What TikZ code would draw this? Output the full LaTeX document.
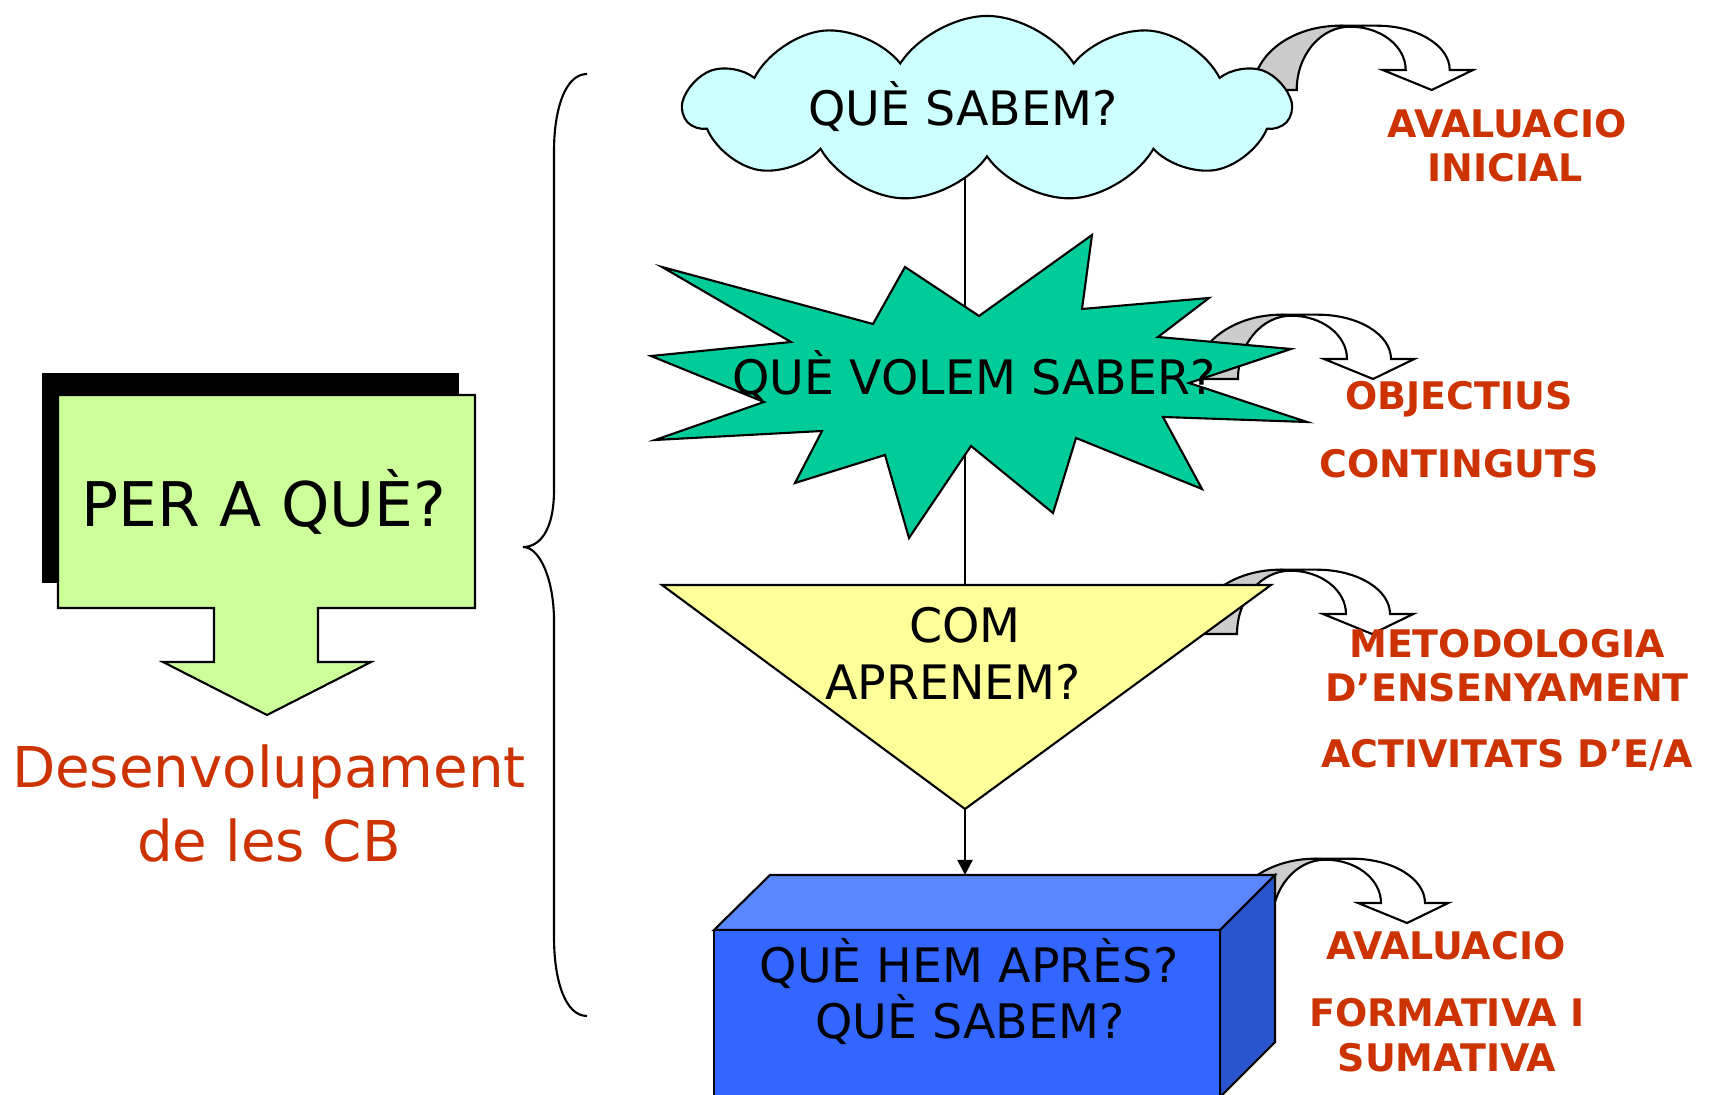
\documentclass[tikz,border=0pt]{standalone}
\usepackage{fontspec}
\setmainfont{DejaVu Sans}
\usetikzlibrary{shapes.symbols,arrows.meta}
\definecolor{labc}{HTML}{CC3300}
\definecolor{cloudc}{HTML}{CCFFFF}
\definecolor{starc}{HTML}{00CC99}
\definecolor{tric}{HTML}{FFFF99}
\definecolor{greenc}{HTML}{CCFF99}
\definecolor{boxfront}{HTML}{3366FF}
\definecolor{boxtopc}{HTML}{5B87FF}
\definecolor{boxside}{HTML}{2B55CC}
\definecolor{bandgray}{HTML}{CCCCCC}
\pgfdeclarelayer{bglayer}
\pgfsetlayers{bglayer,main}
\tikzset{
  outl/.style={draw=black, line width=0.6pt, line join=miter},
  blacktext/.style={font=\fontsize{13.5}{16}\selectfont, anchor=base, inner sep=0pt},
  labeltext/.style={font=\bfseries\fontsize{10.8}{13}\selectfont, text=labc, anchor=base, inner sep=0pt},
  orangebig/.style={font=\fontsize{16}{20}\selectfont, text=labc, anchor=base, inner sep=0pt},
}
\newcommand\bentarrow[2]{%
  \begin{scope}[shift={#2}]
    \filldraw[outl, fill=bandgray] (-178.4,0) arc[start angle=180,end angle=90,x radius=86.7,y radius=64.3]
      -- (-81.7,63.3) arc[start angle=90,end angle=180,x radius=53.3,y radius=63.3] -- cycle;
    \filldraw[outl, fill=white] (-91.7,64.3) -- (-55,64.3) arc[start angle=90,end angle=0,x radius=73,y radius=44.3]
      -- (41.3,20) -- (0,0) coordinate (#1) -- (-49,20) -- (-26,20)
      arc[start angle=0,end angle=90,x radius=55.7,y radius=43.3] -- cycle;
  \end{scope}}
\begin{document}
\begin{tikzpicture}[x=0.01cm,y=0.01cm]
\useasboundingbox (0,0) rectangle (1715,-1095);
\clip (0,0) rectangle (1715,-1095);

% left callout
\fill[black] (42,-373) rectangle (459,-583);
\filldraw[outl, fill=greenc] (58,-395) -- (475,-395) -- (475,-608) -- (318,-608) -- (318,-662)
  -- (371,-662) -- (267,-715) -- (163,-662) -- (214,-662) -- (214,-608) -- (58,-608) -- cycle;
\node[blacktext, font=\fontsize{17.5}{20}\selectfont] (perque) at (264,-527) {PER A QUÈ?};
\node[orangebig] (des1) at (269,-788) {Desenvolupament};
\node[orangebig] (des2) at (269,-862) {de les CB};

% brace
\draw[line width=0.6pt] (587,-74) .. controls (565,-74) and (554,-110) .. (554,-151) -- (554,-490)
  .. controls (554,-530) and (540,-547) .. (523,-547)
  .. controls (540,-547) and (554,-580) .. (554,-621) -- (554,-937)
  .. controls (554,-980) and (565,-1016) .. (587,-1016);

% bent arrows (behind shapes)
\bentarrow{a1}{(1431.7,-90)}
\bentarrow{a2}{(1373,-379)}
\bentarrow{a3}{(1372,-634)}
\bentarrow{a4}{(1407,-923)}

% key coordinates
\coordinate (tritop) at (965,-585);
\coordinate (tritip) at (965,-809);
\coordinate (boxtop) at (965,-875);

% cloud
\node[cloud, cloud puffs=11, cloud puff arc=115, aspect=3.3, outl, fill=cloudc,
      minimum width=6.05cm, minimum height=1.86cm, inner sep=0pt] (cloud) at (987,-109) {};
\begin{pgfonlayer}{bglayer}
  \fill[white] (0,0) rectangle (1715,-1095);
  \draw[line width=0.6pt] (cloud.center -| tritop) -- (tritop);
\end{pgfonlayer}

% star
\filldraw[outl, fill=starc] (662,-267) -- (873,-324) -- (905,-267) -- (979,-316) -- (1092,-235)
  -- (1082,-309) -- (1209,-298) -- (1158,-337) -- (1291,-349) -- (1189,-383) -- (1307,-422)
  -- (1163,-417) -- (1202,-489) -- (1076,-438) -- (1053,-513) -- (971,-446) -- (909,-538)
  -- (885,-455) -- (795,-483) -- (822,-431) -- (655,-440) -- (764,-402) -- (651,-356)
  -- (791,-342) -- cycle;

% triangle
\filldraw[outl, fill=tric] (662,-585) -- (1271,-585) -- (tritip) -- cycle;
\draw[line width=0.6pt, -{Triangle[length=0.15cm,width=0.15cm]}] (tritip) -- (boxtop);

% box
\filldraw[outl, fill=boxtopc] (714,-930) -- (770,-875) -- (1275,-875) -- (1220,-930) -- cycle;
\filldraw[outl, fill=boxside] (1220,-930) -- (1275,-875) -- (1275,-1042) -- (1220,-1097) -- cycle;
\filldraw[outl, fill=boxfront] (714,-930) rectangle (1220,-1110);

% black texts
\node[blacktext] (q1) at (963,-126) {QUÈ SABEM?};
\node[blacktext] (q2) at (974,-395) {QUÈ VOLEM SABER?};
\node[blacktext] (q3a) at (965,-643) {COM};
\node[blacktext] (q3b) at (953,-700) {APRENEM?};
\node[blacktext] (q4a) at (969,-983) {QUÈ HEM APRÈS?};
\node[blacktext] (q4b) at (970,-1038) {QUÈ SABEM?};

% orange labels
\node[labeltext] (l1a) at (1507,-138) {AVALUACIO};
\node[labeltext] (l1b) at (1505,-182) {INICIAL};
\node[labeltext] (l2a) at (1459,-410) {OBJECTIUS};
\node[labeltext] (l2b) at (1459,-478) {CONTINGUTS};
\node[labeltext] (l3a) at (1507,-658) {METODOLOGIA};
\node[labeltext] (l3b) at (1507,-702) {D’ENSENYAMENT};
\node[labeltext] (l3c) at (1507,-768) {ACTIVITATS D’E/A};
\node[labeltext] (l4a) at (1446,-960) {AVALUACIO};
\node[labeltext] (l4b) at (1447,-1027) {FORMATIVA I};
\node[labeltext] (l4c) at (1447,-1071) {SUMATIVA};
\end{tikzpicture}
\end{document}
